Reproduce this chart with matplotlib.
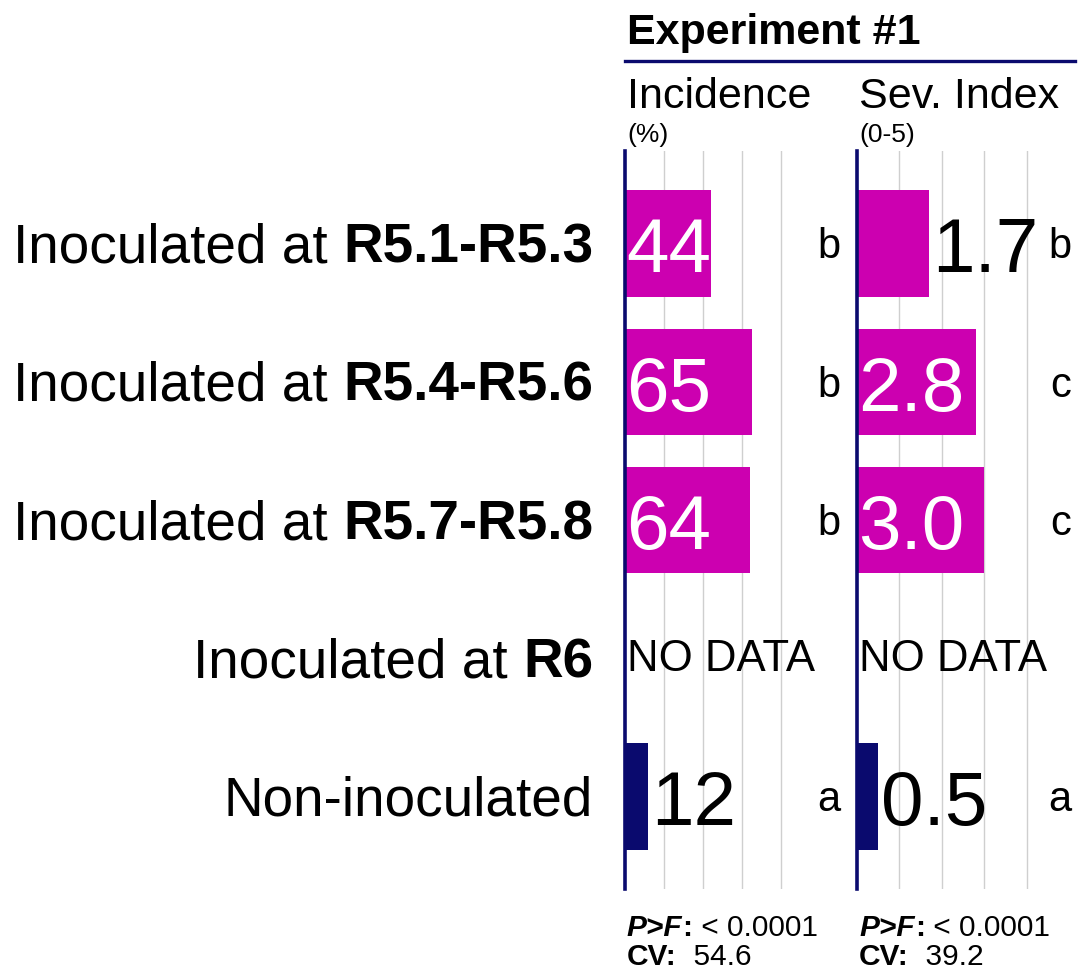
import numpy as np
import matplotlib
matplotlib.use("Agg")
import matplotlib.pyplot as plt
from matplotlib.lines import Line2D

plt.rcParams['font.family'] = ['Liberation Sans', 'DejaVu Sans']

# data
label_plain = ["Inoculated at", "Inoculated at", "Inoculated at", "Inoculated at", "Non-inoculated"]
label_bold = ["R5.1-R5.3", "R5.4-R5.6", "R5.7-R5.8", "R6", ""]
incidence = [44, 65, 64, np.nan, 12]
severity = [1.7, 2.8, 3.0, np.nan, 0.5]
inc_letters = ["b", "b", "b", "", "a"]
sev_letters = ["b", "c", "c", "", "a"]
inoculated = [True, True, True, True, False]
inc_stats = ("< 0.0001", "54.6")
sev_stats = ("< 0.0001", "39.2")

magenta = "#cc00b0"
navy = "#0a0a6e"

fig = plt.figure(figsize=(10.8, 9.7), dpi=100)
W, H = 1080, 970
ax1 = fig.add_axes([625 / W, 1 - 890 / H, 195 / W, 738 / H])
ax2 = fig.add_axes([857 / W, 1 - 890 / H, 212 / W, 738 / H])

rows = np.arange(len(label_plain))
colors = [magenta if f else navy for f in inoculated]


def panel(ax, vals, letters, xmax, ticks, fmt, letter_x, title, unit, stats):
    ax.barh(rows, vals, height=0.77, color=colors, zorder=2)
    ax.set_xlim(0, xmax)
    ax.set_ylim(len(rows) - 0.33, -0.67)
    ax.set_xticks(ticks)
    ax.set_yticks([])
    ax.grid(axis="x", color="#cfcfcf", lw=1, zorder=0)
    ax.tick_params(length=0, labelbottom=False)
    for s in ["top", "right", "bottom"]:
        ax.spines[s].set_visible(False)
    ax.spines["left"].set_color(navy)
    ax.spines["left"].set_linewidth(2.6)
    ax.spines["left"].set_zorder(3)

    for i, v in enumerate(vals):
        if np.isnan(v):
            ax.text(0.01, i, "NO DATA", transform=ax.get_yaxis_transform(),
                    fontsize=31.5, ha="left", va="center")
            continue
        if v / xmax > 0.4:
            ax.annotate(fmt.format(v), xy=(0, i), xytext=(1, -6), textcoords="offset points",
                        ha="left", va="center", fontsize=55, color="white", zorder=4)
        else:
            ax.annotate(fmt.format(v), xy=(v, i), xytext=(2, -6), textcoords="offset points",
                        ha="left", va="center", fontsize=55, color="black", zorder=4)
        ax.annotate(letters[i], xy=(letter_x, i), xycoords=ax.get_yaxis_transform(),
                    xytext=(0, -2), textcoords="offset points",
                    fontsize=30, ha="right", va="center")

    # column headers
    ax.text(0.01, 1.059, title, transform=ax.transAxes, fontsize=31, ha="left", va="baseline")
    ax.text(0.01, 1.0135, unit, transform=ax.transAxes, fontsize=19, ha="left", va="baseline")

    # stats below the panel
    t = ax.text(0.01, -0.063, "P>F", transform=ax.transAxes, fontsize=21.5,
                fontweight="bold", fontstyle="italic", ha="left", va="baseline")
    t2 = ax.annotate(":", xy=(1, 0), xycoords=t, fontsize=21.5, fontweight="bold",
                     ha="left", va="bottom")
    ax.annotate(" " + stats[0], xy=(1, 0), xycoords=t2, fontsize=21.5, ha="left", va="bottom")
    c = ax.text(0.01, -0.101, "CV:", transform=ax.transAxes, fontsize=21.5,
                fontweight="bold", ha="left", va="baseline")
    ax.annotate("  " + stats[1], xy=(1, 0), xycoords=c, fontsize=21.5, ha="left", va="bottom")


panel(ax1, incidence, inc_letters, 100, [20, 40, 60, 80], "{:.0f}", 1.105,
      "Incidence", "(%)", inc_stats)
panel(ax2, severity, sev_letters, 5, [1, 2, 3, 4], "{:.1f}", 1.01,
      "Sev. Index", "(0-5)", sev_stats)

# row labels, plain part followed by bold part
for i in rows:
    if label_bold[i]:
        b = ax1.annotate(label_bold[i], xy=(-0.164, i), xycoords=ax1.get_yaxis_transform(),
                         xytext=(0, -3), textcoords="offset points",
                         fontsize=39.5, fontweight="bold", ha="right", va="center")
        ax1.annotate(label_plain[i], xy=(0, 0.5), xycoords=b, xytext=(-11, 0),
                     textcoords="offset points", fontsize=39.5, ha="right", va="center")
    else:
        ax1.annotate(label_plain[i], xy=(-0.164, i), xycoords=ax1.get_yaxis_transform(),
                     xytext=(0, -3), textcoords="offset points",
                     fontsize=39.5, ha="right", va="center")

# experiment header
fig.text(627 / W, 1 - 44 / H, "Experiment #1", fontsize=31, fontweight="bold",
         ha="left", va="baseline")
fig.add_artist(Line2D([625 / W, 1075 / W], [1 - 62 / H] * 2, transform=fig.transFigure,
                      color=navy, lw=2.4))

fig.savefig("out.png", dpi=100)
